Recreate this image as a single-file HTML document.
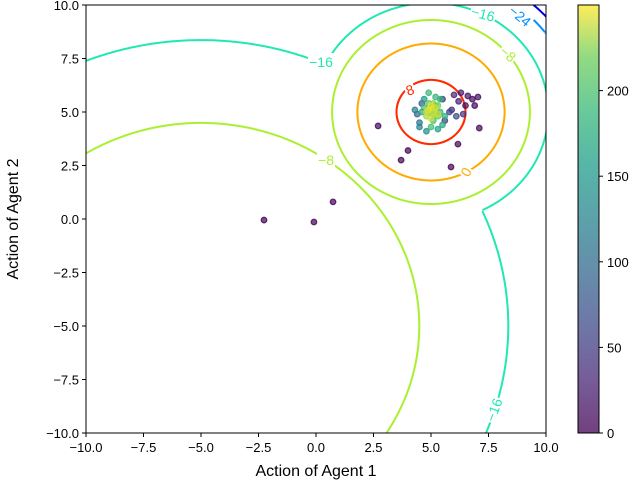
<!DOCTYPE html>
<html><head><meta charset="utf-8"><style>
html,body{margin:0;background:#fff;width:640px;height:488px;overflow:hidden;}
svg{display:block;font-family:"Liberation Sans","DejaVu Sans",sans-serif;}
</style></head><body>
<svg id="chart" width="640" height="488" viewBox="0 0 640 488">
<defs>
<linearGradient id="vir" x1="0" y1="1" x2="0" y2="0">
<stop offset="0" stop-color="#440154"/><stop offset="0.13" stop-color="#482878"/><stop offset="0.25" stop-color="#3e4989"/><stop offset="0.38" stop-color="#31688e"/><stop offset="0.5" stop-color="#26828e"/><stop offset="0.63" stop-color="#1f9e89"/><stop offset="0.75" stop-color="#35b779"/><stop offset="0.88" stop-color="#6ece58"/><stop offset="1" stop-color="#fde725"/>
</linearGradient>
<clipPath id="plotclip"><rect x="86" y="5" width="460" height="428"/></clipPath>
</defs>
<g id="contours" clip-path="url(#plotclip)"></g>
<g id="clabels"></g>
<g id="points" clip-path="url(#plotclip)"></g>
<rect x="86" y="5" width="460" height="428" fill="none" stroke="#000" stroke-width="1"/>
<g id="axes"></g>
<text x="316" y="476" font-size="16" text-anchor="middle">Action of Agent 1</text>
<text x="18" y="219" font-size="16" text-anchor="middle" transform="rotate(-90 18 219)">Action of Agent 2</text>
<rect x="578" y="5" width="21" height="428" fill="url(#vir)" opacity="0.75"/>
<rect x="578" y="5" width="21" height="428" fill="none" stroke="#000" stroke-width="1"/>
<g id="cbaxis"></g>
</svg>
<script>
const xTicks=[-10,-7.5,-5,-2.5,0,2.5,5,7.5,10];
const yTicks=[-10,-7.5,-5,-2.5,0,2.5,5,7.5,10];
const cbTicks=[0,50,100,150,200];
const cbMax=250;
const levels=[-32,-24,-16,-8,0,8];
const levelColors=["#0000dd","#0090ff","#20e8b0","#aaf030","#ffaa00","#ff2a00"];
const radiusPeak=[6.7,6.2,5.1,4.3,3.2,1.5];
const radiusBig=[20.6,20.3,13.36,9.49,0,0];
const peakCenter=[5,5];
const bigCenter=[-5,-5];
const ptX=[-2.26,-0.09,0.74,2.7,4.0,3.7,5.87,6.17,7.1,7.04,6.6,6.3,6.8,6.5,6.0,6.2,5.9,6.4,6.9,5.6,5.8,5.5,6.1,4.6,4.4,4.5,4.3,4.5,4.8,4.7,5.3,5.5,5.4,5.2,4.9,5.0,5.1,5.2,4.9,5.3,5.0,5.1,4.8,5.2,5.0,5.1,5.3,4.9,4.7,5.4,5.6,4.6,5.0,4.9,5.2,5.1,5.0,4.8,5.3];
const ptY=[-0.05,-0.14,0.8,4.35,3.2,2.75,2.43,3.5,4.25,5.7,5.75,5.9,5.6,5.3,5.8,5.5,5.1,4.9,5.3,4.6,5.0,5.6,4.8,5.4,4.9,4.5,5.1,4.3,4.1,5.6,4.2,4.4,5.6,5.7,5.9,4.3,4.6,5.3,5.0,4.8,5.2,5.4,4.8,5.0,5.1,4.9,5.3,5.4,5.2,5.0,4.8,5.0,4.7,5.1,5.2,4.9,5.3,5.0,4.9];
const ptC=[0,0,0,5,0,0,0,5,5,10,15,20,10,15,30,25,35,40,10,50,60,45,70,80,90,110,120,130,140,150,160,170,180,185,190,195,200,205,210,215,220,225,230,235,240,230,220,210,200,190,180,170,240,245,240,235,245,240,238];
const ns="http://www.w3.org/2000/svg";
const X=v=>86+(v+10)*23, Y=v=>433-(v+10)*21.4, CB=v=>433-v/cbMax*428;
function mk(tag,attrs,parent){const e=document.createElementNS(ns,tag);for(const k in attrs)e.setAttribute(k,attrs[k]);parent.appendChild(e);return e;}
function vir(t){const s=[[68,1,84],[72,40,120],[62,73,137],[49,104,142],[38,130,142],[31,158,137],[53,183,121],[110,206,88],[253,231,37]];t=Math.max(0,Math.min(1,t))*8;const i=Math.min(7,Math.floor(t)),f=t-i;return `rgb(${s[i].map((c,j)=>Math.round(c+(s[i+1][j]-c)*f)).join(',')})`;}
const cg=document.getElementById('contours');
levels.forEach((lv,i)=>{
  const circles=[[peakCenter,radiusPeak[i],bigCenter,radiusBig[i]],[bigCenter,radiusBig[i],peakCenter,radiusPeak[i]]];
  circles.forEach(([c,r,oc,orr])=>{
    if(r<=0)return;
    let d="",pen=false;
    for(let k=0;k<=1440;k++){const a=k/1440*2*Math.PI;const x=c[0]+r*Math.cos(a),y=c[1]+r*Math.sin(a);
      const inside=orr>0&&Math.hypot(x-oc[0],y-oc[1])<orr;
      if(inside){pen=false;continue;}
      d+=(pen?"L":"M")+X(x).toFixed(1)+" "+Y(y).toFixed(1);pen=true;}
    if(!d)return;
    const p=mk('path',{d:d,fill:'none',stroke:levelColors[i],'stroke-width':2},cg);
    
    
  });
});
const lg=document.getElementById('clabels');
[["8",410,90,5,-20],["0",466,172,4,-60],["−8",508,54,3,40],["−16",483,14,2,15],["−24",520,16,1,40],["−16",321,62,2,0],["−8",326,160,3,0],["−16",494,410,2,-70]].forEach(([t,x,y,i,rot])=>{
  const w=t.length*8+2;
  const b=mk('rect',{x:x-w/2,y:y-9,width:w,height:16,fill:'#fff',transform:`rotate(${rot} ${x} ${y})`},lg);
  
  
  const e=mk('text',{x:x,y:y+5,'font-size':14,'text-anchor':'middle',fill:levelColors[i],transform:`rotate(${rot} ${x} ${y})`},lg);
  e.textContent=t;
  
  
});
const pg=document.getElementById('points');
ptX.forEach((v,i)=>{const col=vir(ptC[i]/cbMax);
  const c=mk('circle',{cx:X(v),cy:Y(ptY[i]),r:2.8,fill:col,'fill-opacity':0.7,stroke:col,'stroke-width':1.2,'stroke-opacity':0.8},pg);
  
  
});
const ax=document.getElementById('axes');
const fmt=v=>(v<0?"−":"")+Math.abs(v).toFixed(1);
xTicks.forEach(v=>{mk('line',{x1:X(v),x2:X(v),y1:433,y2:437,stroke:'#000'},ax);
  const t=mk('text',{x:X(v),y:452,'font-size':13,'text-anchor':'middle'},ax);t.textContent=fmt(v);
  
  });
yTicks.forEach(v=>{mk('line',{x1:82,x2:86,y1:Y(v),y2:Y(v),stroke:'#000'},ax);
  const t=mk('text',{x:79,y:Y(v)+5,'font-size':13,'text-anchor':'end'},ax);t.textContent=fmt(v);
  
  });
const cb=document.getElementById('cbaxis');
cbTicks.forEach(v=>{mk('line',{x1:599,x2:603,y1:CB(v),y2:CB(v),stroke:'#000'},cb);
  const t=mk('text',{x:607,y:CB(v)+5,'font-size':13},cb);t.textContent=v;
  
  });
</script>
</body></html>
